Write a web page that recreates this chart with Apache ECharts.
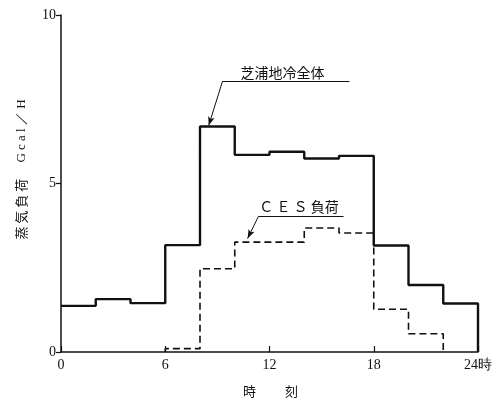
<!DOCTYPE html>
<html>
<head>
<meta charset="utf-8">
<script src="https://cdn.jsdelivr.net/npm/echarts@6/dist/echarts.min.js"></script>
<style>
  html, body { margin: 0; padding: 0; background: #fff; }
  #chart { width: 500px; height: 403px; }
</style>
</head>
<body>
<div id="chart"></div>
<script>
// Hourly steam load (Gcal/H), step profile over one day
const totalHours = [0, 2, 4, 6, 8, 10, 12, 14, 16, 18, 20, 22, 24];
const totalLoad  = [1.37, 1.57, 1.45, 3.17, 6.69, 5.85, 5.94, 5.74, 5.82, 3.16, 1.99, 1.44, 0];

const cesHours = [6, 6, 8, 10, 14, 16, 18, 20, 22];
const cesLoad  = [0, 0.1, 2.47, 3.26, 3.68, 3.53, 1.27, 0.54, 0];

const xTicks = [0, 6, 12, 18, 24];
const yTicks = [0, 5, 10];

const serif = '"Liberation Serif", "DejaVu Serif", serif';
const jp = '"Noto Sans CJK JP", sans-serif';

const pair = (xs, ys) => xs.map((x, i) => [x, ys[i]]);

const chart = echarts.init(document.getElementById('chart'));

// callout: underline + leader arrow + caption, placed in data space
function callout(text, lineY, x1, x2, tipX, tipY, textX, textY, font) {
  return {
    markLine: {
      silent: true,
      animation: false,
      symbol: ['none', 'none'],
      lineStyle: { color: '#111', width: 1, type: 'solid' },
      label: { show: false },
      data: [
        [{ coord: [x1, lineY] }, { coord: [x2, lineY] }],
        [{ coord: [x1, lineY], symbol: 'none' },
         { coord: [tipX, tipY], symbol: 'arrow', symbolSize: [5, 9] }]
      ]
    },
    markPoint: {
      silent: true,
      animation: false,
      symbol: 'circle',
      symbolSize: 0,
      data: [{
        coord: [textX, textY],
        label: {
          show: true, position: 'inside', formatter: text,
          color: '#111', fontSize: 14, fontFamily: font
        }
      }]
    }
  };
}

chart.setOption({
  animation: false,
  grid: { left: 61, right: 22, top: 15, bottom: 48, containLabel: false },
  xAxis: {
    type: 'value',
    min: 0, max: 24, interval: 6,
    name: '時　　 刻',
    nameLocation: 'middle',
    nameGap: 33,
    nameTextStyle: { fontFamily: jp, fontSize: 13, color: '#111', padding: [0, 0, 0, 2] },
    axisLine: { lineStyle: { color: '#111', width: 1.5 } },
    axisTick: { show: true, inside: true, length: 6, lineStyle: { color: '#111', width: 1.2 } },
    axisLabel: {
      color: '#111', fontFamily: serif, fontSize: 14, margin: 6,
      formatter: v => (v === 24 ? '24時' : String(v))
    },
    splitLine: { show: false }
  },
  yAxis: {
    type: 'value',
    min: 0, max: 10, interval: 5,
    name: '{k|蒸 気 負 荷}{u|　 G c a l ／ H}',
    nameLocation: 'middle',
    nameRotate: 90,
    nameGap: 33,
    nameTextStyle: {
      color: '#111',
      padding: [0, 0, 0, 28],
      rich: {
        k: { fontFamily: jp, fontSize: 13, color: '#111' },
        u: { fontFamily: serif, fontSize: 13, color: '#111' }
      }
    },
    axisLine: { show: true, lineStyle: { color: '#111', width: 1.5 } },
    axisTick: { show: true, inside: false, length: 5, lineStyle: { color: '#111', width: 1.2 } },
    axisLabel: { color: '#111', fontFamily: serif, fontSize: 14, margin: 5 },
    splitLine: { show: false }
  },
  series: [
    Object.assign({
      name: '芝浦地冷全体',
      type: 'line',
      step: 'end',
      symbol: 'none',
      data: pair(totalHours, totalLoad),
      lineStyle: { color: '#111', width: 2.4 },
      z: 3
    }, callout('芝浦地冷全体', 8.04, 9.3, 16.6, 8.5, 6.72, 12.75, 8.3, jp)),
    Object.assign({
      name: 'CES負荷',
      type: 'line',
      step: 'end',
      symbol: 'none',
      data: pair(cesHours, cesLoad),
      lineStyle: { color: '#111', width: 1.6, type: [7, 4] },
      z: 2
    }, callout('Ｃ Ｅ Ｓ 負荷', 4.03, 11.37, 16.26, 10.74, 3.37, 13.7, 4.3, jp))
  ]
});
</script>
</body>
</html>
